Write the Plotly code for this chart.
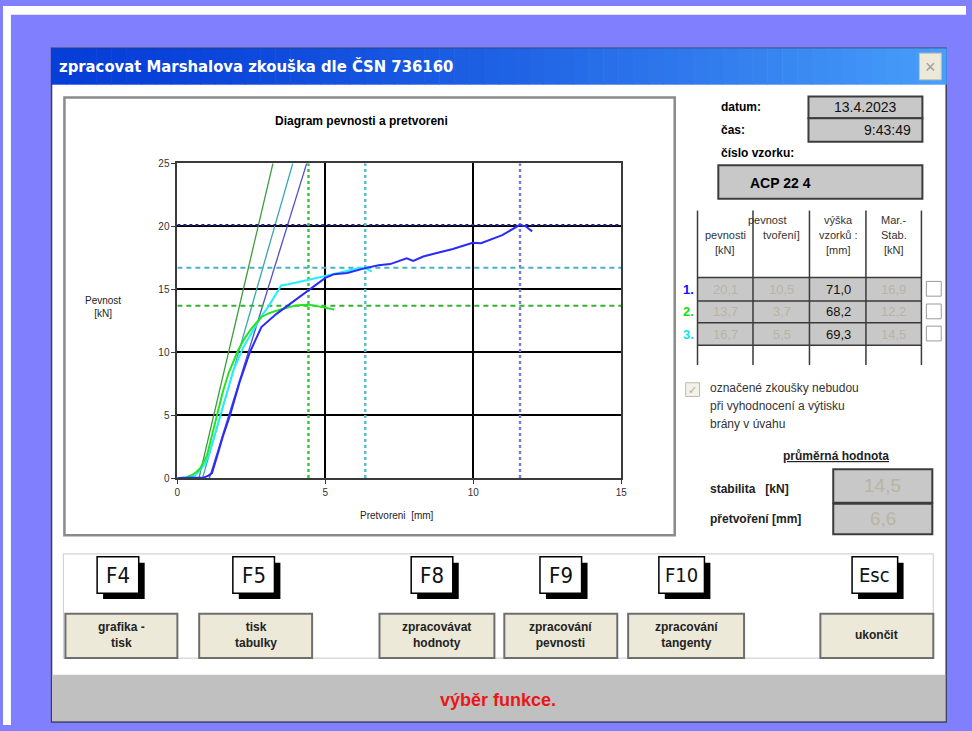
import plotly.graph_objects as go

W, H = 972, 731

# ---- measured load/deformation curves (x: deformation mm, y: force kN) ----
blue_x = [0, 0.5, 0.9, 1.05, 1.17, 1.35, 1.55, 1.78, 2.1, 2.45, 2.84, 3.35, 3.96, 4.46,
          5.0, 5.3, 5.74, 6.38, 6.8, 7.19, 7.6, 7.75, 7.97, 8.31, 8.8, 9.31, 9.98,
          10.26, 10.98, 11.56, 11.77, 11.99]
blue_y = [0, 0.0, 0.05, 0.2, 0.4, 1.8, 3.4, 5.0, 7.6, 10.0, 12.0, 13.05, 14.1, 14.9,
          15.9, 16.2, 16.3, 16.7, 16.9, 17.0, 17.3, 17.45, 17.25, 17.6, 17.9, 18.2, 18.7,
          18.66, 19.3, 20.1, 20.0, 19.6]
green_x = [0, 0.3, 0.5, 0.65, 0.78, 0.9, 1.0, 1.15, 1.34, 1.53, 1.73, 2.06, 2.3, 2.51,
           2.84, 3.1, 3.35, 3.65, 3.96, 4.2, 4.46, 4.85, 5.1, 5.3]
green_y = [0, 0.05, 0.25, 0.5, 0.8, 1.3, 1.8, 3.2, 5.0, 6.8, 8.35, 10.2, 11.2, 11.9,
           12.8, 13.1, 13.3, 13.5, 13.7, 13.75, 13.78, 13.6, 13.5, 13.4]
cyan_x = [0, 0.4, 0.6, 0.72, 0.9, 1.06, 1.25, 1.45, 1.68, 1.9, 2.23, 2.62, 2.85, 3.07,
          3.3, 3.51, 3.75, 3.96, 4.52, 5.07, 5.63, 6.19, 6.4, 6.58]
cyan_y = [0, 0.05, 0.2, 0.5, 1.0, 1.8, 3.3, 5.0, 6.9, 8.6, 10.4, 12.0, 12.9, 13.6,
          14.5, 15.3, 15.4, 15.5, 15.8, 16.1, 16.4, 16.7, 16.6, 16.4]

# ---- per-sample results (order: 1 blue, 2 green, 3 cyan) ----
pevnost = [20.1, 13.7, 16.7]          # kN
pretvoreni = [10.5, 3.7, 5.5]         # mm
vyska = ["71,0", "68,2", "69,3"]      # mm
mar_stab = ["16,9", "12,2", "14,5"]   # kN
tangent_x0 = [1.08, 0.73, 0.85]       # tangent intersection with zero force
tangent_x25 = [4.37, 3.23, 3.90]      # tangent position at 25 kN
avg_stabilita = "14,5"
avg_pretvoreni = "6,6"

curve_colors = ["#2a2aff", "#22e622", "#22eeff"]
tangent_colors = ["#5050c8", "#3c9c3c", "#3aa6ae"]
vline_colors = ["#7878e0", "#3cc03c", "#52bccc"]
hline_colors = ["#20208e", "#30b430", "#44b4c4"]
label_colors = ["#1010ff", "#10e010", "#10e0f0"]

X_MAX, Y_MAX = 15, 25
UI = "Liberation Sans, Arial, sans-serif"
NARROW = "Liberation Sans Narrow, DejaVu Sans Condensed, Arial Narrow, Liberation Sans, sans-serif"
DISABLED = "#b9b5a2"


def px(x):
    return x / W


def py(y):
    return 1 - y / H


shapes = []
annotations = []


def rect(x0, y0, x1, y1, fill=None, line=None, lw=1, layer="below"):
    shapes.append(dict(type="rect", xref="paper", yref="paper",
                       x0=px(x0), x1=px(x1), y0=py(y1), y1=py(y0),
                       fillcolor=fill if fill else "rgba(0,0,0,0)",
                       line=dict(color=line if line else "rgba(0,0,0,0)", width=lw if line else 0),
                       layer=layer))


def hline(x0, x1, y, color, lw=1, layer="below"):
    shapes.append(dict(type="line", xref="paper", yref="paper", x0=px(x0), x1=px(x1),
                       y0=py(y), y1=py(y), line=dict(color=color, width=lw), layer=layer))


def vline(x, y0, y1, color, lw=1, layer="below"):
    shapes.append(dict(type="line", xref="paper", yref="paper", x0=px(x), x1=px(x),
                       y0=py(y0), y1=py(y1), line=dict(color=color, width=lw), layer=layer))


def text(x, y, s, size=12, color="#000", bold=False, anchor="left", family=UI, valign="middle"):
    annotations.append(dict(xref="paper", yref="paper", x=px(x), y=py(y),
                            text=f"<b>{s}</b>" if bold else s, showarrow=False,
                            xanchor=anchor, yanchor=valign, align=anchor if anchor != "middle" else "center",
                            font=dict(family=family, size=size, color=color)))


# ---- desktop and window ----
rect(0, 0, W, 9, fill="#ffffff")
rect(0, 0, 8, H, fill="#ffffff")
rect(49, 43, 952, 728, fill="#ffffff", line="#3c3c5a", lw=1.5)

# title bar gradient
n_strips = 60
c0, c1 = (6, 62, 216), (72, 158, 250)
bar_x0, bar_x1 = 49, 952
for i in range(n_strips):
    t = i / (n_strips - 1)
    col = tuple(int(c0[k] + (c1[k] - c0[k]) * t ** 1.4) for k in range(3))
    xa = bar_x0 + (bar_x1 - bar_x0) * i / n_strips
    xb = bar_x0 + (bar_x1 - bar_x0) * (i + 1) / n_strips + 0.6
    rect(xa, 43, xb, 80, fill="rgb(%d,%d,%d)" % col)
text(54, 62, "zpracovat Marshalova zkouška dle ČSN 736160", size=16.5, color="#ffffff",
     bold=True, family=NARROW)
rect(925, 48, 947, 75, fill="#ece9d8", line="#c8c4b0", lw=1)
text(936, 62, "×", size=18, color="#9a9a9a", anchor="center")

# ---- chart frame ----
rect(62, 93, 678, 538, fill="#ffffff", line="#8a8a8a", lw=2.5)
text(362, 117, "Diagram pevnosti a pretvoreni", size=12, bold=True, anchor="center")
text(101, 306, "Pevnost<br>[kN]", size=10, color="#222", anchor="center")
text(398, 518, "Pretvoreni  [mm]", size=10, color="#222", anchor="center")

# ---- right panel: date, time, sample ----
text(723, 103, "datum:", size=12, bold=True)
text(723, 126, "čas:", size=12, bold=True)
text(723, 149, "číslo vzorku:", size=12, bold=True)
rect(813, 92, 928, 114, fill="#c8c8c8", line="#3c3c3c", lw=2)
rect(813, 114, 928, 138, fill="#c8c8c8", line="#3c3c3c", lw=2)
text(870, 103, "13.4.2023", size=14, color="#111", anchor="center")
text(918, 126, "9:43:49", size=14, color="#111", anchor="right")
rect(722, 162, 928, 196, fill="#c8c8c8", line="#3c3c3c", lw=2)
text(752, 180, "ACP 22 4", size=14, bold=True)

# ---- results table ----
col_x = [701, 757, 814, 871, 927]
row_y = [276, 300, 322, 345]
rect(col_x[0], row_y[0], col_x[-1], row_y[-1], fill="#c8c8c8")
for yv in row_y:
    hline(col_x[0], col_x[-1], yv, "#3a3a3a", lw=1.5)
for xv in col_x:
    vline(xv, 208, 365, "#3a3a3a", lw=1.5)
hdr = "#333333"
text(772, 218, "pevnost", size=11, color=hdr, anchor="center")
text(729, 233, "pevnosti", size=11, color=hdr, anchor="center")
text(786, 233, "tvoření]", size=11, color=hdr, anchor="center")
text(729, 248, "[kN]", size=11, color=hdr, anchor="center")
text(843, 218, "výška", size=11, color=hdr, anchor="center")
text(843, 233, "vzorků :", size=11, color=hdr, anchor="center")
text(843, 248, "[mm]", size=11, color=hdr, anchor="center")
text(899, 218, "Mar.-", size=11, color=hdr, anchor="center")
text(899, 233, "Stab.", size=11, color=hdr, anchor="center")
text(899, 248, "[kN]", size=11, color=hdr, anchor="center")

for i in range(3):
    yc = (row_y[i] + row_y[i + 1]) / 2
    text(692, yc, f"{i + 1}.", size=13, color=label_colors[i], bold=True, anchor="center")
    text(729, yc, f"{pevnost[i]:.1f}".replace(".", ","), size=13, color=DISABLED, anchor="center")
    text(786, yc, f"{pretvoreni[i]:.1f}".replace(".", ","), size=13, color=DISABLED, anchor="center")
    text(843, yc, vyska[i], size=13, color="#111", anchor="center")
    text(899, yc, mar_stab[i], size=13, color=DISABLED, anchor="center")
    rect(932, yc - 8, 947, yc + 7, fill="#ffffff", line="#9a9a9a", lw=1)

# excluded-tests note
rect(689, 383, 703, 397, fill="#f2f1ea", line="#c0bca8", lw=1)
text(696, 390, "✓", size=11, color="#b0ac98", anchor="center")
text(712, 388, "označené zkoušky nebudou", size=12, color="#333")
text(712, 407, "při vyhodnocení a výtisku", size=12, color="#333")
text(712, 425, "brány v úvahu", size=12, color="#333")

# averages
text(841, 458, "<u>průměrná hodnota</u>", size=12, bold=True, color="#222", anchor="center")
text(712, 491, "stabilita   [kN]", size=12, bold=True, color="#222")
text(712, 522, "přetvoření [mm]", size=12, bold=True, color="#222")
rect(838, 471, 938, 505, fill="#c8c8c8", line="#3c3c3c", lw=2)
rect(838, 506, 938, 537, fill="#c8c8c8", line="#3c3c3c", lw=2)
text(888, 488, avg_stabilita, size=19, color=DISABLED, anchor="center")
text(888, 521, avg_pretvoreni, size=19, color=DISABLED, anchor="center")

# ---- function keys and buttons ----
rect(61, 557, 939, 663, line="#d4d4d4", lw=1.2)
keys = [("F4", 118, 42), ("F5", 255, 42), ("F8", 435, 42),
        ("F9", 565, 42), ("F10", 687, 46), ("Esc", 882, 46)]
for label, cx, kw in keys:
    x0 = cx - kw / 2 - 2
    rect(x0 + 6, 566, x0 + kw + 6, 603, fill="#000000")
    rect(x0, 560, x0 + kw, 597, fill="#ffffff", line="#000000", lw=1.5)
    text(x0 + kw / 2, 579, label, size=20 if len(label) > 2 else 22, color="#111",
         anchor="center", family=NARROW)

buttons = [("grafika -<br>tisk", 63, 176), ("tisk<br>tabulky", 198, 312),
           ("zpracovávat<br>hodnoty", 380, 496), ("zpracování<br>pevnosti", 506, 620),
           ("zpracování<br>tangenty", 631, 748), ("ukončit", 825, 939)]
for label, x0, x1 in buttons:
    rect(x0, 618, x1, 663, fill="#ece9d8", line="#6e6e6e", lw=2)
    text((x0 + x1) / 2, 640, label, size=12, bold=True, color="#222", anchor="center")

# ---- status bar ----
rect(50, 680, 951, 727, fill="#c0c0c0")
text(500, 706, "výběr funkce.", size=18, bold=True, color="#e81818", anchor="center")

# ---- chart traces ----
fig = go.Figure()

# tangents
for i in range(3):
    fig.add_trace(go.Scatter(x=[tangent_x0[i], tangent_x25[i]], y=[0, Y_MAX], mode="lines",
                             line=dict(color=tangent_colors[i], width=1.3)))

# strength levels (horizontal) and deformation marks (vertical)
for i in range(3):
    fig.add_trace(go.Scatter(x=[0, X_MAX], y=[pevnost[i], pevnost[i]], mode="lines",
                             line=dict(color=hline_colors[i], width=2,
                                       dash="3px,3px" if i == 0 else "5px,4px")))
    xv = tangent_x0[i] + pretvoreni[i]
    fig.add_trace(go.Scatter(x=[xv, xv], y=[0, Y_MAX], mode="lines",
                             line=dict(color=vline_colors[i], width=2.4, dash="3px,3px")))

# measured curves
for xs, ys, col in [(cyan_x, cyan_y, curve_colors[2]), (green_x, green_y, curve_colors[1]),
                    (blue_x, blue_y, curve_colors[0])]:
    fig.add_trace(go.Scatter(x=xs, y=ys, mode="lines", line=dict(color=col, width=2)))

axis_common = dict(showgrid=True, gridcolor="#000000", gridwidth=1.6, zeroline=False,
                   showline=True, mirror=True, linecolor="#3a3a3a", linewidth=1.8,
                   ticks="outside", ticklen=4, tickcolor="#3a3a3a",
                   tickfont=dict(family=UI, size=10, color="#333"), fixedrange=True)
fig.update_layout(
    width=W, height=H, margin=dict(l=0, r=0, t=0, b=0),
    paper_bgcolor="#8080ff", plot_bgcolor="#ffffff", showlegend=False, hovermode=False,
    xaxis=dict(domain=[px(176), px(624)], range=[0, X_MAX], dtick=5, **axis_common),
    yaxis=dict(domain=[py(480), py(160)], range=[0, Y_MAX], dtick=5, **axis_common),
    shapes=shapes, annotations=annotations,
)

fig.write_html("out.html")
